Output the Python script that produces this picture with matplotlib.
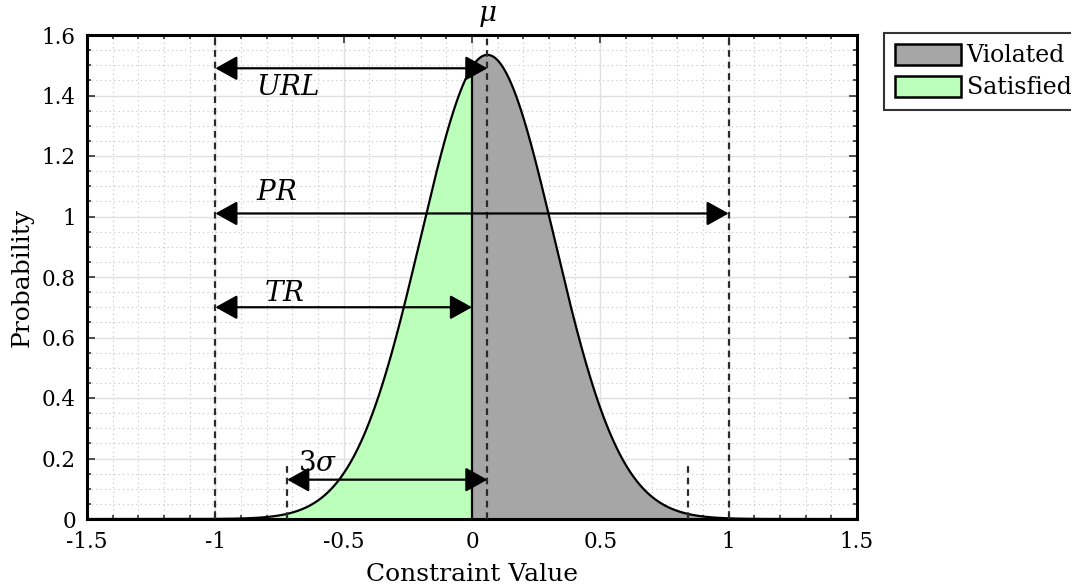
import numpy as np
import matplotlib
matplotlib.use("Agg")
import matplotlib.pyplot as plt
from matplotlib.ticker import MultipleLocator, FixedLocator, FixedFormatter
from matplotlib.patches import Patch

plt.rcParams["font.family"] = ["DejaVu Serif"]
plt.rcParams["mathtext.fontset"] = "dejavuserif"

# Distribution of the constraint value
mu = 0.06
sigma = 0.26

# Range limits
pr_low, pr_high = -1.0, 1.0
tr_high = 0.0

# Arrow heights (probability axis)
url_y = 1.49
pr_y = 1.01
tr_y = 0.70
sig_y = 0.13

x_ticks = [-1.5, -1, -0.5, 0, 0.5, 1, 1.5]
x_tick_labels = ["-1.5", "-1", "-0.5", "0", "0.5", "1", "1.5"]
y_ticks = [0, 0.2, 0.4, 0.6, 0.8, 1, 1.2, 1.4, 1.6]
y_tick_labels = ["0", "0.2", "0.4", "0.6", "0.8", "1", "1.2", "1.4", "1.6"]

green = "#bbffbb"
grey = "#a6a6a6"

fig = plt.figure(figsize=(10.71, 5.87), dpi=100)
ax = fig.add_axes([87 / 1071, 1 - 519 / 587, (857 - 87) / 1071, (519 - 35) / 587])

x = np.linspace(-1.5, 1.5, 3001)
pdf = np.exp(-0.5 * ((x - mu) / sigma) ** 2) / (sigma * np.sqrt(2 * np.pi))
peak0 = np.exp(-0.5 * ((0 - mu) / sigma) ** 2) / (sigma * np.sqrt(2 * np.pi))

ax.fill_between(x, 0, pdf, where=x <= tr_high, color=green, lw=0, zorder=2)
ax.fill_between(x, 0, pdf, where=x >= tr_high, color=grey, lw=0, zorder=2)
ax.plot(x, pdf, color="black", lw=1.6, zorder=4)
ax.plot([tr_high, tr_high], [0, peak0], color="black", lw=1.6, zorder=4)

dash = dict(color="#2a2a2a", lw=1.6, ls=(0, (3, 2.2)), zorder=5)
for xv in (pr_low, pr_high, mu):
    ax.axvline(xv, **dash)
for xv in (mu - 3 * sigma, mu + 3 * sigma):
    ax.plot([xv, xv], [0, 0.19], **dash)

arrow = dict(arrowstyle="<|-|>,head_length=0.45,head_width=0.25", color="black",
             lw=1.6, mutation_scale=30, shrinkA=0, shrinkB=0)
ax.annotate("", xy=(mu, url_y), xytext=(pr_low, url_y), arrowprops=arrow, zorder=6)
ax.annotate("", xy=(pr_high, pr_y), xytext=(pr_low, pr_y), arrowprops=arrow, zorder=6)
ax.annotate("", xy=(tr_high, tr_y), xytext=(pr_low, tr_y), arrowprops=arrow, zorder=6)
ax.annotate("", xy=(mu, sig_y), xytext=(mu - 3 * sigma, sig_y), arrowprops=arrow, zorder=6)

tfs = 20
ax.text(-0.72, 1.425, r"$URL$", fontsize=tfs, ha="center", va="center")
ax.text(-0.76, 1.08, r"$PR$", fontsize=tfs, ha="center", va="center")
ax.text(-0.73, 0.745, r"$TR$", fontsize=tfs, ha="center", va="center")
ax.text(-0.6, 0.185, r"$3\sigma$", fontsize=tfs, ha="center", va="center")
ax.text(mu, 1.665, r"$\mu$", fontsize=tfs, ha="center", va="center")

ax.set_xlim(-1.5, 1.5)
ax.set_ylim(0, 1.6)
ax.xaxis.set_major_locator(FixedLocator(x_ticks))
ax.xaxis.set_major_formatter(FixedFormatter(x_tick_labels))
ax.yaxis.set_major_locator(FixedLocator(y_ticks))
ax.yaxis.set_major_formatter(FixedFormatter(y_tick_labels))
ax.xaxis.set_minor_locator(MultipleLocator(0.1))
ax.yaxis.set_minor_locator(MultipleLocator(0.05))

ax.grid(which="major", color="#e0e0e0", lw=1.0, zorder=0)
ax.grid(which="minor", color="#c4c4c4", lw=0.8, ls=(0, (1, 3)), zorder=0)
ax.set_axisbelow(True)

ax.tick_params(which="both", direction="in", top=True, right=True, labelsize=15.5,
               width=1.2, color="#333333")
ax.tick_params(which="major", length=6)
ax.tick_params(which="minor", length=3)
ax.tick_params(axis="x", which="major", pad=9)
ax.tick_params(axis="y", which="major", pad=8)
for s in ax.spines.values():
    s.set_linewidth(2.2)

ax.set_xlabel("Constraint Value", fontsize=18, labelpad=7)
ax.set_ylabel("Probability", fontsize=18, labelpad=6)

handles = [Patch(facecolor=grey, edgecolor="black", lw=1.8, label="Violated"),
           Patch(facecolor=green, edgecolor="black", lw=1.8, label="Satisfied")]
leg = fig.legend(handles=handles, loc="upper left",
                 bbox_to_anchor=(884 / 1071, 1 - 33 / 587), fontsize=17,
                 frameon=True, fancybox=False, edgecolor="black",
                 borderpad=0.45, handlelength=2.8, handleheight=1.0,
                 handletextpad=0.25, labelspacing=0.35, borderaxespad=0)
leg.get_frame().set_linewidth(1.5)

fig.savefig("out.png", dpi=100)
